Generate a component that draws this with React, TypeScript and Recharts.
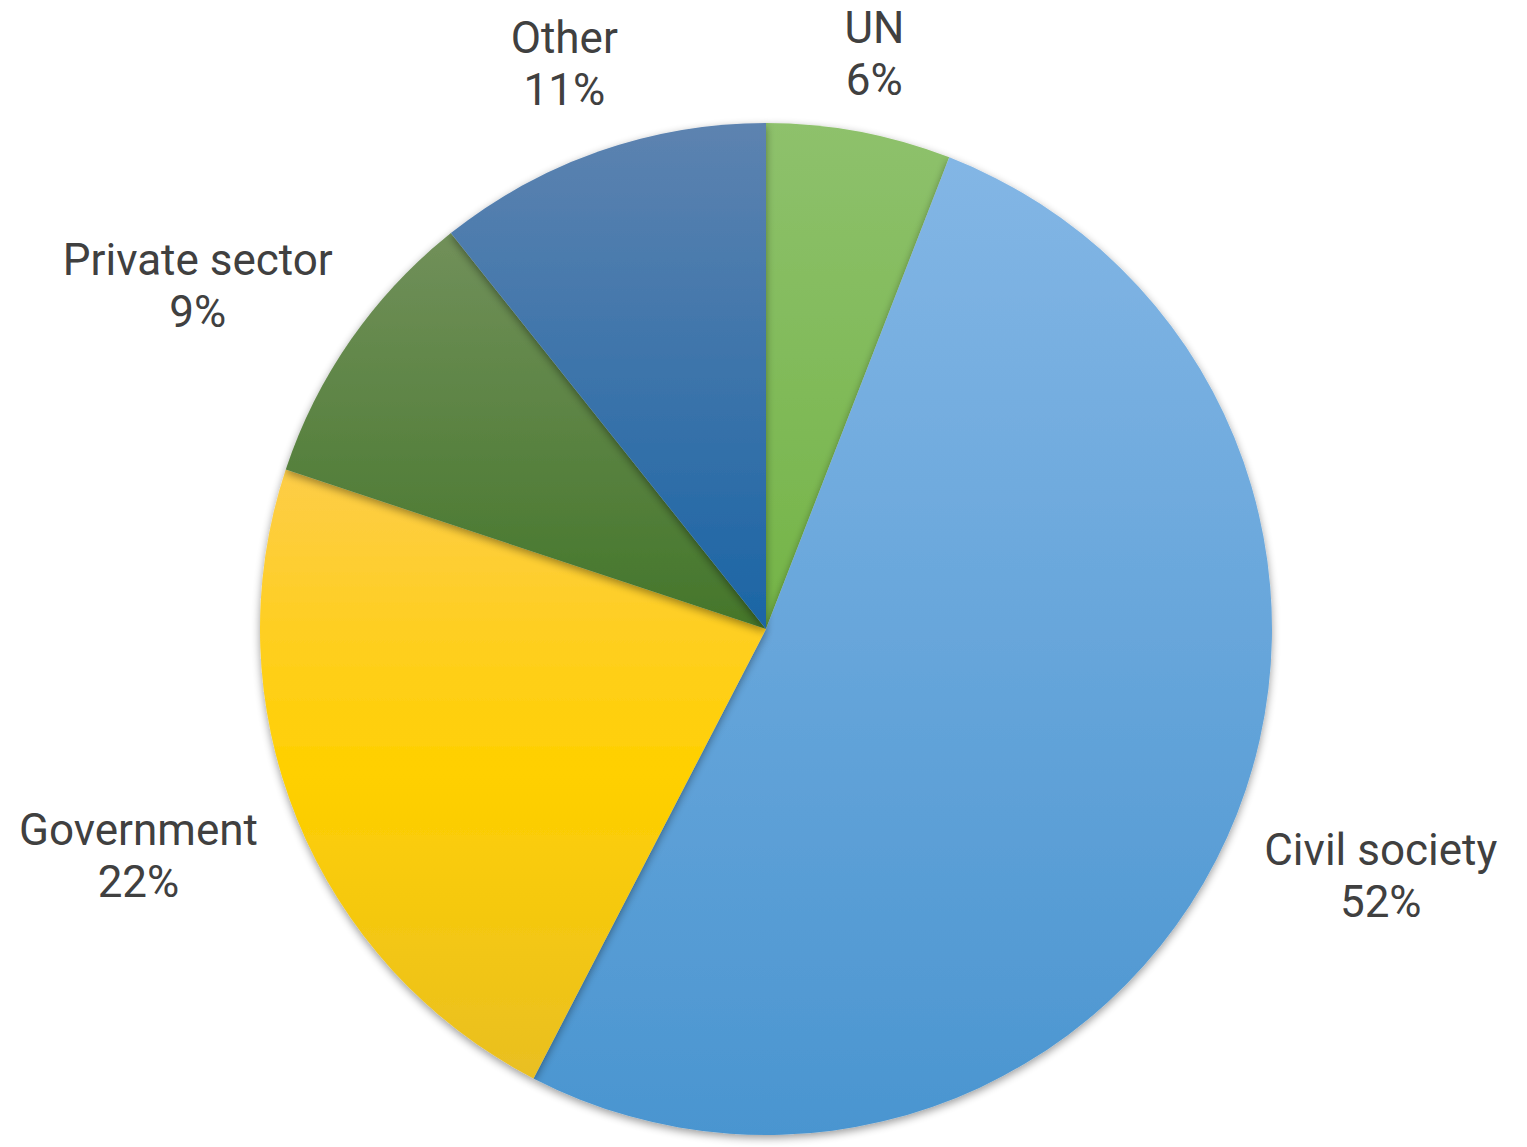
import React from 'react';
import { PieChart, Pie, Cell } from 'recharts';

// ---- data ----
const categories = ['UN', 'Civil society', 'Government', 'Private sector', 'Other'];
const shares = [5.9, 51.7, 22.5, 9.2, 10.7];
const percentLabels = ['6%', '52%', '22%', '9%', '11%'];

// ---- styling ----
const gradientStops: string[][] = [
  ['#8ec16c', '#74b447'],
  ['#83b6e5', '#4a95d0'],
  ['#fdcd48', '#ffd000', '#e9bf22'],
  ['#71905a', '#44762a'],
  ['#5d83b0', '#1b65a5'],
];

const FONT_FAMILY = 'Roboto, "Noto Sans", sans-serif';
const FONT_SIZE = 44;
const LINE_GAP = 52;
const CAP = 0.711 * FONT_SIZE;
const ANCHOR_GAP = 52;
const TOP_MIN = 12;
const TEXT_COLOR = '#404040';

const data = categories.map((name, i) => ({ name, value: shares[i], pct: percentLabels[i] }));

let measureCtx: CanvasRenderingContext2D | null = null;
function textWidth(s: string): number {
  if (!measureCtx && typeof document !== 'undefined') {
    const c = document.createElement('canvas');
    measureCtx = c.getContext('2d');
  }
  if (measureCtx) {
    measureCtx.font = `${FONT_SIZE}px Roboto`;
    return measureCtx.measureText(s).width;
  }
  return s.length * 0.52 * FONT_SIZE;
}

const renderLabel = (props: any) => {
  const { cx, cy, midAngle, outerRadius, index } = props;
  const item = data[index];
  const rad = (-midAngle * Math.PI) / 180;
  const ux = Math.cos(rad);
  const uy = Math.sin(rad);
  const w = Math.max(textWidth(item.name), textWidth(item.pct));
  const h = CAP + LINE_GAP;
  const rr = outerRadius + ANCHOR_GAP;
  const x = cx + ux * rr + (ux * w) / 2;
  let yc = cy + uy * rr + (uy * h) / 2;
  if (yc - h / 2 < TOP_MIN) yc = TOP_MIN + h / 2;
  const y1 = yc - h / 2 + CAP;
  return (
    <text
      x={x}
      y={y1}
      textAnchor="middle"
      fill={TEXT_COLOR}
      fontFamily={FONT_FAMILY}
      fontSize={FONT_SIZE}
    >
      <tspan x={x} y={y1}>{item.name}</tspan>
      <tspan x={x} y={y1 + LINE_GAP}>{item.pct}</tspan>
    </text>
  );
};

export default function App() {
  return (
    <div style={{ position: 'absolute', left: 0, top: 0, width: 1527, height: 1147, background: '#ffffff' }}>
      <style>{`.recharts-pie-sector path { filter: url(#pieShadow); }`}</style>
      <PieChart
        width={1527}
        height={1147}
        margin={{ top: 0, right: 0, bottom: 0, left: 0 }}
      >
        <defs>
          {gradientStops.map((stops, i) => (
            <linearGradient key={i} id={`grad${i}`} x1="0" y1="0" x2="0" y2="1">
              {stops.map((c, j) => (
                <stop key={j} offset={stops.length === 1 ? 0 : j / (stops.length - 1)} stopColor={c} />
              ))}
            </linearGradient>
          ))}
          <filter id="pieShadow" x="-10%" y="-10%" width="120%" height="120%">
            <feGaussianBlur in="SourceAlpha" stdDeviation="4" />
            <feOffset dx="0" dy="3" result="off" />
            <feComponentTransfer>
              <feFuncA type="linear" slope="0.4" />
            </feComponentTransfer>
            <feMerge>
              <feMergeNode />
              <feMergeNode in="SourceGraphic" />
            </feMerge>
          </filter>
        </defs>
        <Pie
          data={data}
          dataKey="value"
          nameKey="name"
          cx={766}
          cy={629}
          outerRadius={506}
          innerRadius={0}
          startAngle={90}
          endAngle={-270}
          stroke="none"
          label={renderLabel}
          labelLine={false}
          isAnimationActive={false}
        >
          {data.map((_, i) => (
            <Cell key={i} fill={`url(#grad${i})`} stroke="none" />
          ))}
        </Pie>
      </PieChart>
    </div>
  );
}
